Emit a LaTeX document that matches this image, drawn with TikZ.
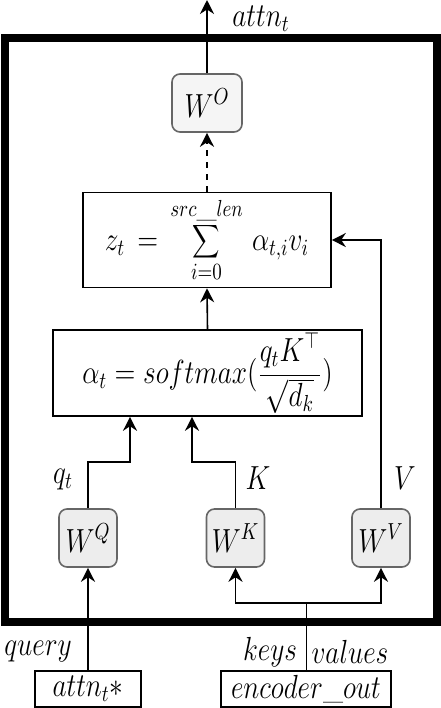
\documentclass[tikz,border=0pt]{standalone}
\usepackage{graphicx}
\usetikzlibrary{arrows.meta, positioning, calc}
\newcommand{\mt}[1]{\scalebox{0.95}[1.16]{$\displaystyle #1$}}
\begin{document}
\begin{tikzpicture}[
    x=0.5pt, y=-0.5pt,
    block/.style={rectangle, draw=black, line width=0.8pt, inner sep=0pt, font=\Large},
    weight/.style={rectangle, draw=black!60, fill=black!7, line width=0.8pt, rounded corners=4pt, minimum width=29pt, minimum height=29pt, inner sep=0pt, font=\Large},
    lbl/.style={font=\Large, inner sep=0pt},
    arrow/.style={-{Stealth[length=7pt, width=7pt]}, line width=0.8pt}
]
\useasboundingbox (0,0) rectangle (440,708);

% Frame
\draw[line width=3.6pt] (5,38) rectangle (437,622);

% Nodes
\node[weight, fill=black!4, minimum width=35pt] (wo) at (207,103) {\mt{W^O}};
\node[block, minimum width=124pt, minimum height=47.5pt] (zsum) at (207,240) {\mt{z_t \,=\, \sum_{i=0}^{src\_len}\, \alpha_{t,i} v_i}};
\node[block, minimum width=154.5pt, minimum height=43pt] (alpha) at (207.5,373) {\mt{\alpha_t = softmax(\frac{q_t K^\top}{\sqrt{d_k}})}};
\node[weight] (wq) at (88,538) {\mt{W^Q}};
\node[weight] (wk) at (235.5,538) {\mt{W^K}};
\node[weight] (wv) at (381,538) {\mt{W^V}};
\node[block, minimum width=53pt, minimum height=18pt] (attn) at (88,689) {\mt{attn_t*}};
\node[block, minimum width=85pt, minimum height=18pt] (enc) at (306,689) {\mt{encoder\_out}};
\coordinate (out) at (207,0);

% Labels
\node[lbl] (attnlbl) at (261,19) {\mt{attn_t}};
\node[lbl] (qlbl) at (63,480) {\mt{q_t}};
\node[lbl] (klbl) at (258,478) {\mt{K}};
\node[lbl] (vlbl) at (405,478) {\mt{V}};
\node[lbl] (querylbl) at (38,652) {\mt{query}};
\node[lbl] (keyslbl) at (270,652) {\mt{keys}};
\node[lbl] (valueslbl) at (350,652) {\mt{values}};

% Paths
\draw[arrow] (wo.north) -- (out);
\draw[arrow, dashed] (zsum.north) -- (wo.south);
\draw[arrow] (alpha.north) -- (zsum.south);
\draw[arrow] (wq.north) -- ++(0,-46) -| ([xshift=-38.75pt]alpha.south);
\draw[arrow] (wk.north) -- ++(0,-46) -| ([xshift=-7.75pt]alpha.south);
\draw[arrow] (wv.north) |- (zsum.east);
\draw[arrow] (attn.north) -- (wq.south);
\draw (enc.north) -- ++(0,-67) coordinate (split);
\draw[arrow] (split) -| (wk.south);
\draw[arrow] (split) -| (wv.south);

\end{tikzpicture}
\end{document}
